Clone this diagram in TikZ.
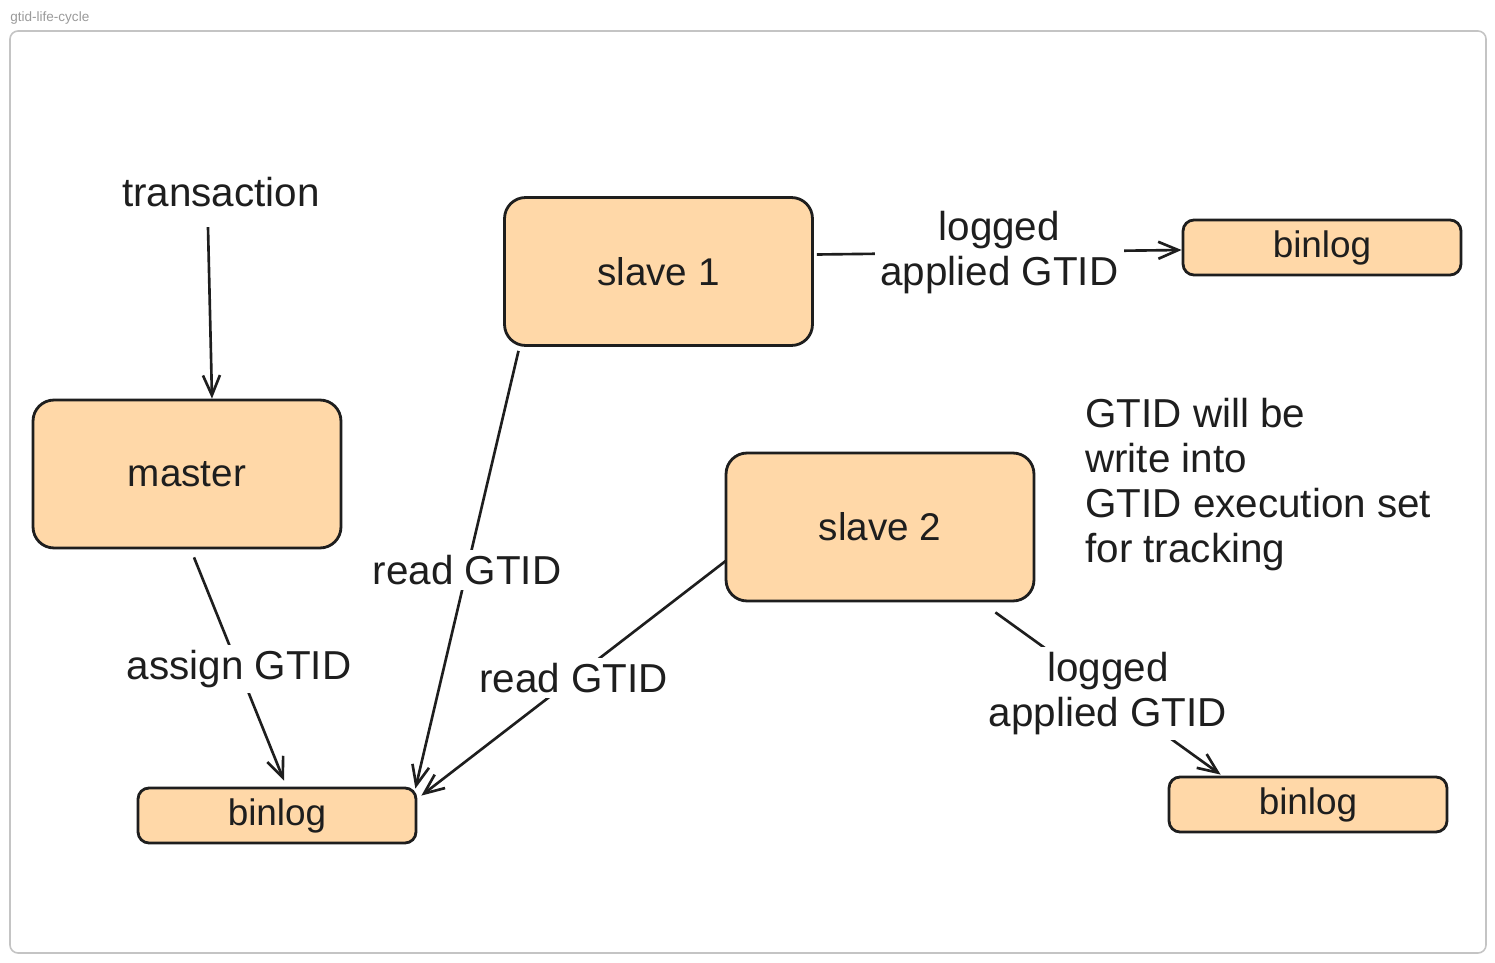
\documentclass[tikz,border=0pt]{standalone}
\usepackage{fontspec}
\setmainfont{Liberation Sans}
\usetikzlibrary{arrows.meta,calc}
\definecolor{ink}{HTML}{1E1E1E}
\definecolor{peach}{HTML}{FFD8A8}
\definecolor{framegray}{HTML}{C4C4C4}
\definecolor{titlegray}{HTML}{9A9A9A}
\tikzset{
  bigbox/.style={draw=ink, fill=peach, line width=1.6pt, rounded corners=0.42cm,
    minimum width=6.16cm, minimum height=2.96cm, text=ink, font=\fontsize{22}{26}\selectfont},
  logbox/.style={draw=ink, fill=peach, line width=1.6pt, rounded corners=0.22cm,
    minimum width=5.56cm, minimum height=1.1cm, text=ink, font=\fontsize{21}{25}\selectfont},
  plaintext/.style={text=ink, font=\fontsize{23}{25.5}\selectfont, inner sep=0pt},
  conn/.style={draw=ink, line width=1.5pt, -{Straight Barb[length=0.4cm,width=0.34cm,line width=1.5pt]}},
  lbl/.style={fill=white, text=ink, font=\fontsize{23}{25.5}\selectfont, inner sep=3pt, align=center}
}
\begin{document}
\begin{tikzpicture}[x=0.02cm,y=-0.02cm]
\useasboundingbox (0,0) rectangle (1495,963);
\fill[white] (0,0) rectangle (1495,963);
% frame and title
\draw[framegray, line width=0.9pt, rounded corners=0.16cm] (10,31) rectangle (1486,953);
\node[anchor=west, text=titlegray, font=\fontsize{7.7}{9}\selectfont, inner sep=0pt] (title) at (10,18) {gtid-life-cycle};

% boxes
\node[bigbox] (master) at (187,474) {master};
\node[bigbox] (slaveone) at (658.5,271.5) {slave 1};
\node[bigbox] (slavetwo) at (880,527) {slave 2};
\node[logbox] (binL) at (277,815.5) {binlog};
\node[logbox] (binTR) at (1322,247.5) {binlog};
\node[logbox] (binBR) at (1308,804.5) {binlog};

% free texts
\node[plaintext] (tx) at (221,192) {transaction};
\node[plaintext, anchor=north west, align=left] (note) at (1085,398)
  {GTID will be\\write into\\GTID execution set\\for tracking};

% connectors
\draw[conn] ($(tx.south)+(-13,20)$) -- ($(master.north)+(25,0)$);
\draw[conn] ($(master.south)+(7,8)$) -- node[lbl] {assign GTID} ($(binL.north)+(7,-6)$);
\draw[conn] ($(slaveone.south)+(-140,4)$) -- node[lbl] {read GTID} ($(binL.north east)+(-2,2)$);
\draw[conn] ($(slavetwo.west)+(1,34)$) -- node[lbl] {read GTID} ($(binL.north east)+(4,9)$);
\draw[conn] ($(slaveone.east)+(3,-17)$) -- node[lbl] {logged\\applied GTID} ($(binTR.west)+(0,2.5)$);
\draw[conn] ($(slavetwo.south east)+(-40,10)$) -- node[lbl] {logged\\applied GTID} ($(binBR.north west)+(53,-1)$);
\end{tikzpicture}
\end{document}
